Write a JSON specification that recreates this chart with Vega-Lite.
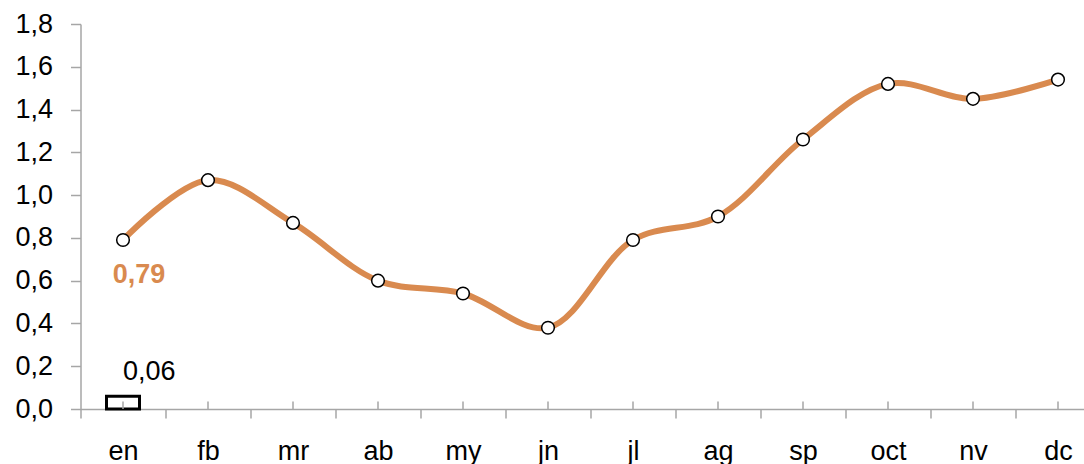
{
  "$schema": "https://vega.github.io/schema/vega-lite/v6.json",
  "autosize": "none",
  "padding": {"left": 80.5, "top": 24, "right": 0, "bottom": 55},
  "width": 1020,
  "height": 385,
  "background": "white",
  "config": {
    "locale": {"number": {"decimal": ",", "thousands": ".", "grouping": [3], "currency": ["", " €"]}},
    "view": {"stroke": null},
    "font": "Liberation Sans"
  },
  "data": {
    "values": [
      {"month": "en", "value": 0.79, "bar": 0.06},
      {"month": "fb", "value": 1.07, "bar": null},
      {"month": "mr", "value": 0.87, "bar": null},
      {"month": "ab", "value": 0.60, "bar": null},
      {"month": "my", "value": 0.54, "bar": null},
      {"month": "jn", "value": 0.38, "bar": null},
      {"month": "jl", "value": 0.79, "bar": null},
      {"month": "ag", "value": 0.90, "bar": null},
      {"month": "sp", "value": 1.26, "bar": null},
      {"month": "oct", "value": 1.52, "bar": null},
      {"month": "nv", "value": 1.45, "bar": null},
      {"month": "dc", "value": 1.54, "bar": null}
    ]
  },
  "encoding": {
    "x": {
      "field": "month", "type": "nominal", "sort": null,
      "scale": {"paddingInner": 0, "paddingOuter": 0},
      "axis": {
        "title": null, "labelAngle": 0, "tickBand": "extent",
        "domainColor": "#a6a6a6", "domainWidth": 1.5, "tickColor": "#a6a6a6", "tickWidth": 1.5, "tickSize": 9,
        "labelFont": "Liberation Sans", "labelFontSize": 27, "labelColor": "#000000",
        "labelBaseline": "alphabetic", "labelPadding": 41, "grid": false
      }
    }
  },
  "layer": [
    {
      "transform": [{"filter": "datum.bar != null"}],
      "mark": {"type": "bar", "fill": "white", "stroke": "black", "strokeWidth": 3, "size": 33},
      "encoding": {
        "y": {
          "field": "bar", "type": "quantitative",
          "scale": {"domain": [0, 1.8], "nice": false},
          "axis": {
            "title": null, "values": [0, 0.2, 0.4, 0.6, 0.8, 1.0, 1.2, 1.4, 1.6, 1.8], "format": ".1f",
            "domainColor": "#a6a6a6", "domainWidth": 1.5, "tickColor": "#a6a6a6", "tickWidth": 1.5, "tickSize": 10,
            "labelFont": "Liberation Sans", "labelFontSize": 27, "labelColor": "#000000",
            "labelPadding": 18, "grid": false
          }
        }
      }
    },
    {
      "mark": {"type": "rule", "color": "#a6a6a6", "strokeWidth": 1.5},
      "encoding": {
        "y": {"datum": 0, "type": "quantitative"},
        "y2": {"datum": 0.035}
      }
    },
    {
      "transform": [{"filter": "datum.bar != null"}],
      "mark": {"type": "text", "align": "left", "baseline": "alphabetic", "dx": 0, "dy": -16, "fontSize": 27, "font": "Liberation Sans", "color": "black"},
      "encoding": {
        "y": {"field": "bar", "type": "quantitative"},
        "text": {"field": "bar", "type": "quantitative", "format": ".2f"}
      }
    },
    {
      "mark": {"type": "line", "color": "#D98A4F", "strokeWidth": 6, "interpolate": "catmull-rom"},
      "encoding": {
        "y": {"field": "value", "type": "quantitative"}
      }
    },
    {
      "mark": {"type": "point", "filled": true, "fill": "white", "stroke": "black", "strokeWidth": 1.5, "size": 160, "opacity": 1},
      "encoding": {
        "y": {"field": "value", "type": "quantitative"}
      }
    },
    {
      "transform": [{"filter": "datum.month == 'en'"}],
      "mark": {"type": "text", "align": "center", "baseline": "alphabetic", "dx": 16, "dy": 43, "fontSize": 27, "fontWeight": "bold", "font": "Liberation Sans", "color": "#D98A4F"},
      "encoding": {
        "y": {"field": "value", "type": "quantitative"},
        "text": {"field": "value", "type": "quantitative", "format": ".2f"}
      }
    }
  ]
}
